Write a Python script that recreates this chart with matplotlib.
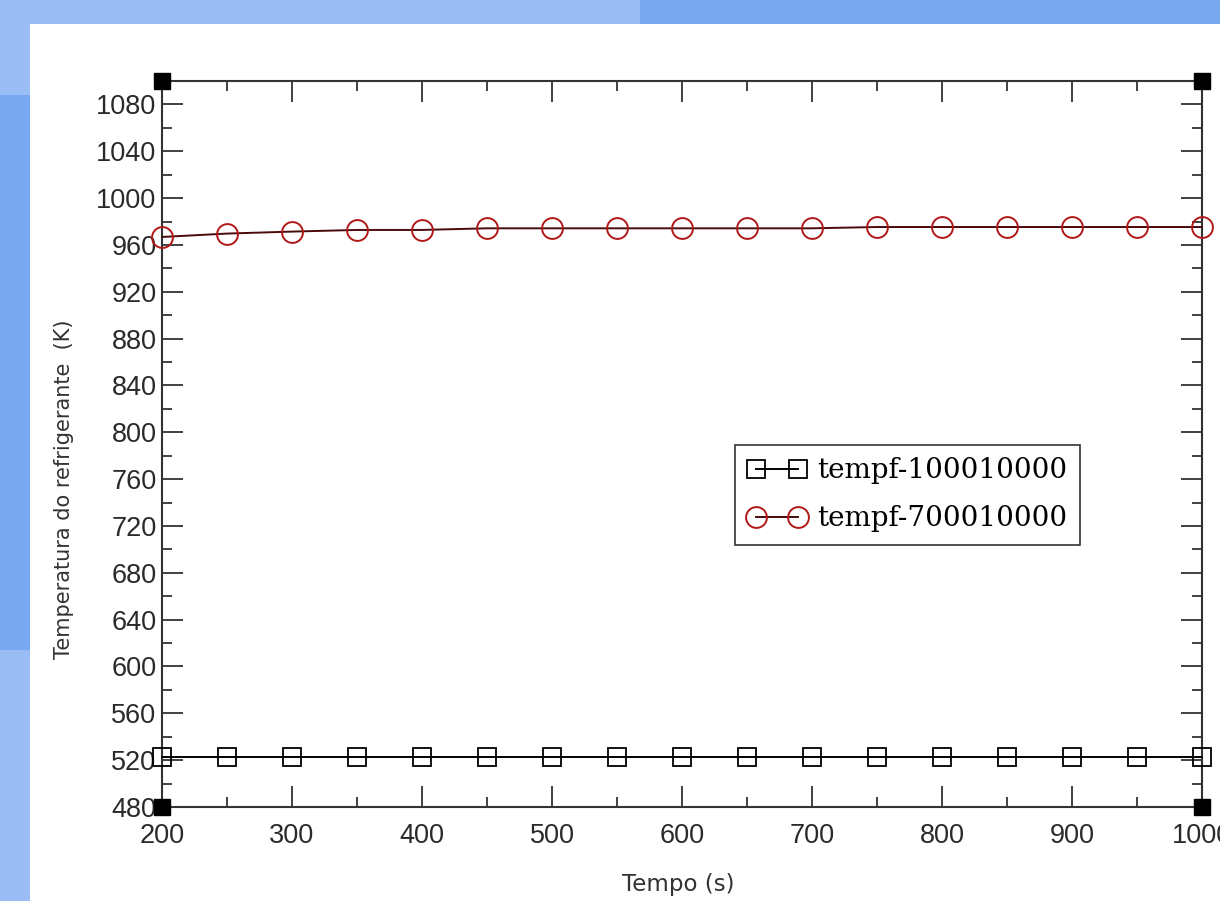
import matplotlib
matplotlib.use("Agg")
import matplotlib.pyplot as plt
from matplotlib.patches import Rectangle
from matplotlib.ticker import MultipleLocator

# data
tempo = [200, 250, 300, 350, 400, 450, 500, 550, 600, 650, 700,
         750, 800, 850, 900, 950, 1000]
tempf_100010000 = [522.5, 522.5, 522.5, 522.5, 522.5, 522.5, 522.5, 522.5, 522.5,
                   522.5, 522.5, 522.5, 522.5, 522.5, 522.5, 522.5, 522.5]
tempf_700010000 = [966.8, 969.7, 971.4, 972.8, 972.8, 974.2, 974.2, 974.2, 974.2,
                   974.2, 974.2, 975.3, 975.3, 975.3, 975.3, 975.3, 975.3]
labels = ["tempf-100010000", "tempf-700010000"]

W, H = 1220, 901
fig = plt.figure(figsize=(W / 100, H / 100), dpi=100)

# screenshot window frame (blue strips at top and left)
light, dark = "#9bbdf5", "#78a8f0"
def px_rect(x0, y0, x1, y1, c):
    fig.add_artist(Rectangle((x0 / W, 1 - y1 / H), (x1 - x0) / W, (y1 - y0) / H,
                             transform=fig.transFigure, color=c, lw=0, zorder=0))
px_rect(0, 0, 640, 24, light)
px_rect(640, 0, W, 24, dark)
px_rect(0, 24, 30, 95, light)
px_rect(0, 95, 30, 650, dark)
px_rect(0, 650, 30, H, light)

ax = fig.add_axes([162 / W, 1 - 807 / H, (1202 - 162) / W, (807 - 81) / H])

ax.plot(tempo, tempf_100010000, color="black", lw=1.4, marker="s", ms=13,
        mfc="none", mec="black", mew=1.3, label=labels[0], clip_on=False, zorder=3)
ax.plot(tempo, tempf_700010000, color="#4a0a0a", lw=1.4, marker="o", ms=15,
        mfc="none", mec="#b01818", mew=1.4, label=labels[1], clip_on=False, zorder=3)

ax.set_xlim(200, 1000)
ax.set_ylim(480, 1100)
ax.xaxis.set_major_locator(MultipleLocator(100))
ax.xaxis.set_minor_locator(MultipleLocator(50))
ax.yaxis.set_major_locator(MultipleLocator(40))
ax.yaxis.set_minor_locator(MultipleLocator(20))
ax.tick_params(which="both", direction="in", top=True, right=True,
               color="#333333", width=1.3)
ax.tick_params(which="major", length=15, labelsize=19.5, labelcolor="#2a2a2a")
ax.tick_params(which="minor", length=7.5)
ax.tick_params(axis="x", which="major", pad=11.5)
ax.tick_params(axis="y", which="major", pad=4)
for lab in ax.get_xticklabels() + ax.get_yticklabels():
    lab.set_fontfamily("Liberation Sans")
for s in ax.spines.values():
    s.set_linewidth(1.5)
    s.set_color("#333333")

# black squares at the frame corners
ax.plot([0, 1, 0, 1], [0, 0, 1, 1], ls="none", marker="s", ms=11.5, color="black",
        transform=ax.transAxes, clip_on=False, zorder=5)

ax.set_xlabel("Tempo (s)", fontsize=16.5, color="#333333")
ax.set_ylabel("Temperatura do refrigerante  (K)", fontsize=15, color="#333333")
ax.xaxis.set_label_coords((678 - 162) / 1040, -(873 - 807) / 726)
ax.yaxis.set_label_coords(-(162 - 74) / 1040, (807 - 489) / 726)

leg = ax.legend(loc="upper left", bbox_to_anchor=((735 - 162) / 1040, (807 - 445) / 726),
                borderaxespad=0, fancybox=False, edgecolor="#333333", framealpha=1,
                numpoints=2, handlelength=2.1, handletextpad=0.4,
                prop={"family": "DejaVu Serif", "size": 20}, labelspacing=0.75,
                borderpad=0.45)
leg.get_frame().set_linewidth(1.2)

fig.savefig("out.png", dpi=100)
